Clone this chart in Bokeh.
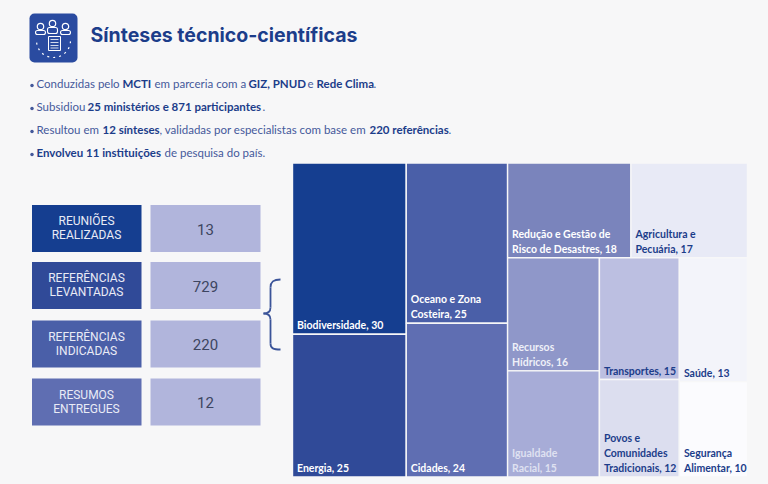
from bokeh.core.properties import value
from bokeh.embed import file_html
from bokeh.models import ColumnDataSource, Range1d
from bokeh.plotting import figure
from bokeh.resources import INLINE

BG = "#f7f7f8"
NARROW = value("Lato")
NAVY = "#1c3d8a"
SOFT = "#45599b"

title = "Sínteses técnico-científicas"

# treemap data
topics = ["Biodiversidade", "Energia", "Oceano e Zona\nCosteira", "Cidades",
          "Redução e Gestão de\nRisco de Desastres", "Agricultura e\nPecuária",
          "Recursos\nHídricos", "Igualdade\nRacial", "Transportes",
          "Povos e\nComunidades\nTradicionais", "Saúde", "Segurança\nAlimentar"]
counts = [30, 25, 25, 24, 18, 17, 16, 15, 15, 12, 13, 10]
cell_colors = ["#153e90", "#304a98", "#4a5fa8", "#5f6eb2", "#7a84bc", "#e8eaf6",
               "#8f97c9", "#a7acd7", "#bcbfe1", "#dcdeef", "#f3f4fa", "#fbfbfe"]
label_colors = ["white", "white", "white", "white", "white", NAVY,
                "#eef0f8", "#dfe1f1", NAVY, NAVY, NAVY, NAVY]

# left table
row_labels = ["REUNIÕES\nREALIZADAS", "REFERÊNCIAS\nLEVANTADAS", "REFERÊNCIAS\nINDICADAS", "RESUMOS\nENTREGUES"]
row_values = ["13", "729", "220", "12"]
row_colors = ["#153e90", "#304a98", "#4a5fa8", "#5f6eb2"]

# bullet lines as (text, bold, start x) runs
bullet_runs = [
    [("Conduzidas pelo", False, 36), ("MCTI", True, 122), ("em parceria com a", False, 154),
     ("GIZ, PNUD", True, 248), ("e", False, 307), ("Rede Clima", True, 316), (".", False, 373)],
    [("Subsidiou", False, 36), ("25 ministérios e 871 participantes", True, 87), (".", False, 262)],
    [("Resultou em", False, 36), ("12 sínteses", True, 102),
     (", validadas por especialistas com base em", False, 159), ("220 referências", True, 369), (".", False, 448)],
    [("Envolveu 11 instituições", True, 36), ("de pesquisa do país.", False, 164)],
]

# nesting of the treemap, True = split horizontally
tree = (True, [(False, [0, 1]), (False, [2, 3]),
               (False, [(True, [4, 5]),
                        (True, [(False, [6, 7]), (False, [8, 9]), (False, [10, 11])])])])


def total(node):
    if isinstance(node, int):
        return counts[node]
    return sum(total(n) for n in node[1])


def layout(node, x0, y0, x1, y1, out):
    if isinstance(node, int):
        out[node] = (x0, y0, x1, y1)
        return
    horizontal, kids = node
    pos = x0 if horizontal else y0
    size = (x1 - x0) if horizontal else (y1 - y0)
    whole = total(node)
    for kid in kids:
        step = size * total(kid) / whole
        if horizontal:
            layout(kid, pos, y0, pos + step, y1, out)
        else:
            layout(kid, x0, pos, x1, pos + step, out)
        pos += step


# figure covers the whole window, units are page pixels
p = figure(width=768, height=484, output_backend="svg", toolbar_location=None,
           x_range=Range1d(0, 768), y_range=Range1d(484, 0),
           x_axis_type=None, y_axis_type=None, min_border=0,
           background_fill_color=BG, border_fill_color=BG, outline_line_color=None)
p.grid.visible = False

# icon
p.quad(left=[29], right=[77], top=[13], bottom=[62], fill_color="#2a4ba0", line_color=None, border_radius=5)
p.circle(x=[40, 52, 65], y=[26, 23, 26], radius=[3.2, 3.2, 3.2], fill_color=None, line_color="white", line_width=1.2)
p.quad(left=[35, 47, 60], right=[45, 57, 70], top=[30, 27, 30], bottom=[34, 33, 34],
       fill_color="#2a4ba0", line_color="white", line_width=1.1, border_radius=2)
p.quad(left=[48], right=[60], top=[36], bottom=[50], fill_color="#2a4ba0", line_color="white", line_width=1)
p.segment(x0=[50, 50, 50, 50], y0=[39, 42, 45, 47.5], x1=[58, 58, 58, 58], y1=[39, 42, 45, 47.5],
          line_color="white", line_width=0.8)
p.arc(x=[53], y=[40], radius=[17], start_angle=[-0.05], end_angle=[3.2], direction="clock",
      line_color="white", line_width=1.2, line_dash="dotted")

p.text(x=[90], y=[34], text=[title], text_font=value("Inter"), text_font_style="bold", text_font_size="19.5px",
       text_color=NAVY, text_baseline="middle")

# bullets
for i, runs in enumerate(bullet_runs):
    y = 83 + i * 23
    p.scatter(x=[31.5], y=[y + 2], size=3.5, fill_color=SOFT, line_color=None)
    for text, bold, x in runs:
        p.text(x=[x], y=[y], text=[text], text_baseline="middle", text_font=NARROW,
               text_font_size="11.5px", text_font_style="bold" if bold else "normal",
               text_color=NAVY if bold else SOFT)

# table
row_tops = [204.5, 261.5, 320, 378]
row_bottoms = [t + 47 for t in row_tops]
p.quad(left=[31.5] * 4, right=[141] * 4, top=row_tops, bottom=row_bottoms, fill_color=row_colors, line_color=None)
p.quad(left=[150] * 4, right=[260] * 4, top=row_tops, bottom=row_bottoms, fill_color="#b1b5dc", line_color=None)
p.text(x=[86] * 4, y=[t + 23 for t in row_tops], text=row_labels, text_font=value("Roboto"), text_font_size="12px",
       text_color="#e9ebf6", text_align="center", text_baseline="middle", text_line_height=1.0)
p.text(x=[205] * 4, y=[t + 24 for t in row_tops], text=row_values, text_font=value("Roboto"), text_font_size="15px",
       text_color="#3d4560", text_align="center", text_baseline="middle")

# brace
p.bezier(x0=[280, 270, 263, 270], y0=[279, 307, 313, 343],
         x1=[270, 263, 270, 280], y1=[287, 313, 319, 349],
         cx0=[273, 270, 268, 270], cy0=[279, 311, 313, 348],
         cx1=[270, 268, 270, 273], cy1=[281, 313, 315, 349],
         line_color="#3b5499", line_width=1.8)
p.segment(x0=[270, 270], y0=[287, 319], x1=[270, 270], y1=[307, 343], line_color="#3b5499", line_width=1.8)

# treemap
boxes = {}
layout(tree, 292, 162.5, 747, 476.5, boxes)
order = range(len(counts))
source = ColumnDataSource(dict(
    left=[boxes[i][0] for i in order], top=[boxes[i][1] for i in order],
    right=[boxes[i][2] for i in order], bottom=[boxes[i][3] for i in order],
    color=cell_colors,
    tx=[boxes[i][0] + 4.5 for i in order], ty=[boxes[i][3] - 3 for i in order],
    label=[f"{t}, {c}" for t, c in zip(topics, counts)], label_color=label_colors,
))
p.quad(left="left", right="right", top="top", bottom="bottom", fill_color="color", line_color=BG, line_width=1.4,
       source=source)
p.text(x="tx", y="ty", text="label", text_color="label_color", text_font=NARROW, text_font_style="bold",
       text_font_size="10.5px", text_baseline="bottom", text_line_height=1.25, source=source)

html = file_html(p, INLINE).replace("<body>", f'<body style="background:{BG};margin:0">')
open("out.html", "w").write(html)
